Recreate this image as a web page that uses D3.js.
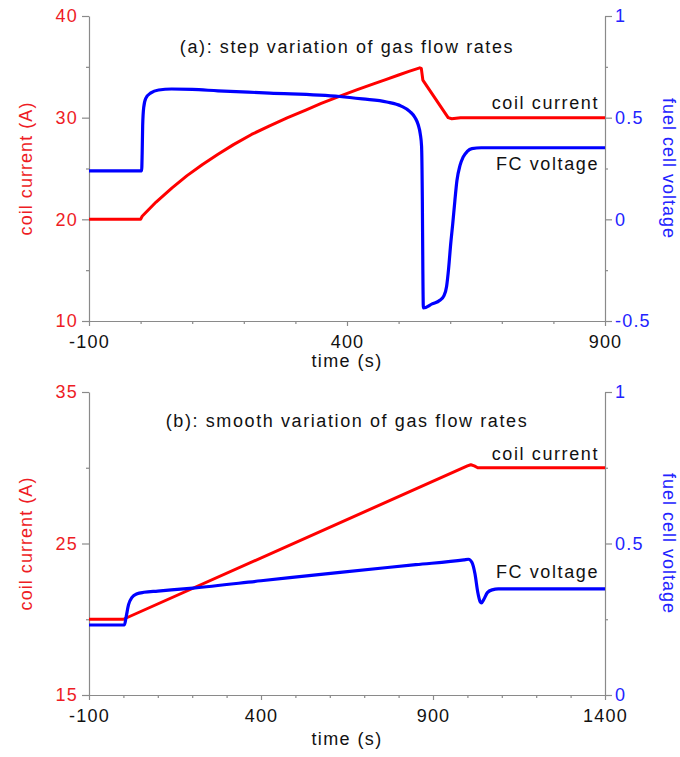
<!DOCTYPE html>
<html>
<head>
<meta charset="utf-8">
<script src="https://cdn.jsdelivr.net/npm/d3@7"></script>
<style>
  html, body { margin: 0; padding: 0; background: #fff; }
  svg { display: block; font-family: "Liberation Sans", Arial, sans-serif; }
</style>
</head>
<body>
<svg id="chart" width="680" height="757"></svg>
<script>
// ---------- DATA ----------
// Panel (a): step variation of gas flow rates  [time (s), value]
const topCurrent = [
  [-100, 20], [0, 20], [3, 20.3], [30, 21.7], [61, 23.1], [90, 24.3], [120, 25.4],
  [150, 26.4], [180, 27.35], [215, 28.35], [250, 29.2], [285, 30.0], [320, 30.75],
  [350, 31.4], [385, 32.1], [420, 32.75], [450, 33.3], [475, 33.75], [500, 34.2],
  [520, 34.55], [541, 34.9], [544, 34.85], [547, 33.7], [596, 30.0], [603, 29.9],
  [620, 30.0], [900, 30.0]
];
const topVoltage = [
  [-100, 0.238], [2, 0.238], [3, 0.32], [4, 0.46], [6, 0.55], [10, 0.595], [20, 0.622],
  [35, 0.636], [60, 0.641], [100, 0.639], [150, 0.632], [250, 0.621], [386, 0.604],
  [430, 0.592], [477, 0.577], [505, 0.557], [522, 0.53], [532, 0.50], [538, 0.465],
  [542, 0.42], [544.5, 0.36], [546, 0.1], [547, -0.25], [548, -0.436], [565, -0.416],
  [580, -0.398], [588, -0.375], [593, -0.33], [597, -0.24], [601, -0.12], [605, -0.02],
  [609, 0.09], [613, 0.19], [619, 0.265], [625, 0.306], [633, 0.334], [642, 0.348],
  [660, 0.352], [900, 0.352]
];
// Panel (b): smooth variation of gas flow rates
const bottomCurrent = [
  [-100, 20], [0, 20], [1000, 30.12], [1010, 30.2], [1020, 30.12],
  [1030, 30.0], [1400, 30.0]
];
const bottomVoltage = [
  [-100, 0.231], [3, 0.231], [8, 0.258], [15, 0.298], [25, 0.322], [40, 0.334],
  [60, 0.339], [100, 0.343], [202, 0.353], [400, 0.377], [630, 0.405], [850, 0.43],
  [990, 0.446], [1003, 0.448], [1013, 0.438], [1022, 0.40], [1030, 0.34], [1037, 0.308],
  [1041, 0.304], [1048, 0.316], [1058, 0.338], [1072, 0.347], [1090, 0.35], [1400, 0.35]
];

// tick values
const topXMajor = [-100, 400, 900];
const topXMinor = [0, 100, 200, 300, 500, 600, 700, 800];
const topLMajor = [10, 20, 30, 40];
const topLMinor = [15, 25, 35];
const topRMajor = [-0.5, 0, 0.5, 1];
const topRMinor = [-0.25, 0.25, 0.75];
const botXMajor = [-100, 400, 900, 1400];
const botXMinor = [0, 100, 200, 300, 500, 600, 700, 800, 1000, 1100, 1200, 1300];
const botLMajor = [15, 25, 35];
const botLMinor = [20, 30];
const botRMajor = [0, 0.5, 1];
const botRMinor = [0.25, 0.75];

const titles = ["(a): step variation of gas flow rates", "(b): smooth variation of gas flow rates"];

// ---------- DRAW ----------
const svg = d3.select("#chart");
const RED_LINE = "#ff0000", BLUE_LINE = "#0000ff";
const RED_TXT = "#ee1c25", BLUE_TXT = "#2323ff", AXIS = "#8a8a8a";
const FS = 18;

function panel(cfg) {
  const x = d3.scaleLinear().domain(cfg.xDom).range([89, 605]);
  const yL = d3.scaleLinear().domain(cfg.lDom).range([cfg.bottom, cfg.top]);
  const yR = d3.scaleLinear().domain(cfg.rDom).range([cfg.bottom, cfg.top]);
  const g = svg.append("g");
  const fmt = d => String(d);

  function styleAxis(sel, color) {
    sel.select(".domain").attr("stroke", AXIS).attr("stroke-width", 1.2);
    sel.selectAll(".tick line").attr("stroke", AXIS).attr("stroke-width", 1.2);
    sel.selectAll(".tick text").attr("fill", color).style("font-size", FS + "px")
      .style("letter-spacing", "1.2px").style("font-family", '"Liberation Sans", Arial, sans-serif');
  }

  // bottom axis
  const gx = g.append("g").attr("transform", `translate(0,${cfg.bottom})`)
    .call(d3.axisBottom(x).tickValues(cfg.xMajor).tickSize(5).tickSizeOuter(0).tickPadding(9).tickFormat(fmt));
  styleAxis(gx, "#111");
  const gxm = g.append("g").attr("transform", `translate(0,${cfg.bottom})`)
    .call(d3.axisBottom(x).tickValues(cfg.xMinor).tickSize(3).tickSizeOuter(0).tickFormat(""));
  styleAxis(gxm, "#111"); gxm.select(".domain").remove();

  // left axis
  const gl = g.append("g").attr("transform", `translate(89,0)`)
    .call(d3.axisLeft(yL).tickValues(cfg.lMajor).tickSize(7).tickSizeOuter(0).tickPadding(4).tickFormat(fmt));
  styleAxis(gl, RED_TXT);
  const glm = g.append("g").attr("transform", `translate(89,0)`)
    .call(d3.axisLeft(yL).tickValues(cfg.lMinor).tickSize(3).tickSizeOuter(0).tickFormat(""));
  styleAxis(glm, RED_TXT); glm.select(".domain").remove();

  // right axis
  const gr = g.append("g").attr("transform", `translate(605,0)`)
    .call(d3.axisRight(yR).tickValues(cfg.rMajor).tickSize(7).tickSizeOuter(0).tickPadding(3).tickFormat(fmt));
  styleAxis(gr, BLUE_TXT);
  const grm = g.append("g").attr("transform", `translate(605,0)`)
    .call(d3.axisRight(yR).tickValues(cfg.rMinor).tickSize(3).tickSizeOuter(0).tickFormat(""));
  styleAxis(grm, BLUE_TXT); grm.select(".domain").remove();

  // lines
  const lineL = d3.line().x(d => x(d[0])).y(d => yL(d[1])).curve(d3.curveLinear);
  const lineR = d3.line().x(d => x(d[0])).y(d => yR(d[1])).curve(d3.curveMonotoneX);
  g.append("path").datum(cfg.current).attr("d", lineL)
    .attr("fill", "none").attr("stroke", RED_LINE).attr("stroke-width", 3).attr("stroke-linejoin", "round");
  g.append("path").datum(cfg.voltage).attr("d", lineR)
    .attr("fill", "none").attr("stroke", BLUE_LINE).attr("stroke-width", 3.2).attr("stroke-linejoin", "round");

  const txt = (tx, ty, s, opts = {}) => g.append("text")
    .attr("x", tx).attr("y", ty).text(s)
    .attr("text-anchor", opts.anchor || "start")
    .attr("fill", opts.fill || "#111")
    .attr("transform", opts.rot ? `rotate(${opts.rot},${tx},${ty})` : null)
    .style("font-size", FS + "px")
    .style("letter-spacing", (opts.ls != null ? opts.ls : 1.6) + "px");

  const midY = (cfg.top + cfg.bottom) / 2;
  txt(347, cfg.titleY, cfg.title, { anchor: "middle" });
  txt(599, cfg.ccY, "coil current", { anchor: "end" });
  txt(599, cfg.fcY, "FC voltage", { anchor: "end" });
  txt(347, cfg.timeY, "time (s)", { anchor: "middle", ls: 1.4 });
  txt(32, midY, "coil current (A)", { anchor: "middle", fill: RED_TXT, rot: -90, ls: 1.05 });
  txt(663, midY, "fuel cell voltage", { anchor: "middle", fill: BLUE_TXT, rot: 90, ls: 1.0 });
}

panel({
  xDom: [-100, 900], lDom: [10, 40], rDom: [-0.5, 1], top: 16, bottom: 321,
  xMajor: topXMajor, xMinor: topXMinor, lMajor: topLMajor, lMinor: topLMinor,
  rMajor: topRMajor, rMinor: topRMinor, current: topCurrent, voltage: topVoltage,
  title: titles[0], titleY: 53, ccY: 109, fcY: 170, timeY: 367
});
panel({
  xDom: [-100, 1400], lDom: [15, 35], rDom: [0, 1], top: 392, bottom: 695,
  xMajor: botXMajor, xMinor: botXMinor, lMajor: botLMajor, lMinor: botLMinor,
  rMajor: botRMajor, rMinor: botRMinor, current: bottomCurrent, voltage: bottomVoltage,
  title: titles[1], titleY: 427, ccY: 460, fcY: 578, timeY: 745
});
</script>
</body>
</html>
